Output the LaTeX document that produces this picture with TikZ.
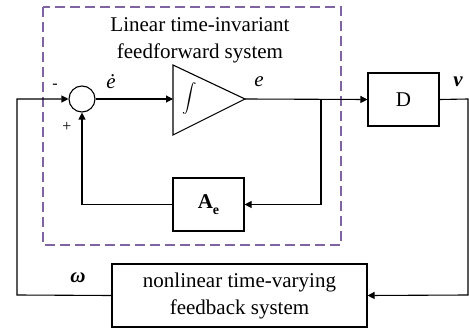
\documentclass[tikz,border=0pt]{standalone}
\usepackage{amsmath}
\usepackage{fontspec}
\setmainfont{Liberation Serif}
\usetikzlibrary{arrows.meta}
\definecolor{dpurple}{RGB}{128,100,162}
\begin{document}
\begin{tikzpicture}[x=1pt,y=-1pt,
  blk/.style={draw,line width=1.1pt,inner sep=0pt,font=\fontsize{21}{26}\selectfont},
  sig/.style={line width=1.1pt,-{Triangle[length=7pt,width=7pt]}},
  ln/.style={line width=1.1pt},
  lbl/.style={inner sep=0pt,font=\fontsize{21}{26}\selectfont},
  sgn/.style={inner sep=0pt,font=\fontsize{16}{18}\selectfont}]
\useasboundingbox (0,0) rectangle (469,329);
% dashed region
\draw[dpurple,line width=1.5pt,dash pattern=on 10pt off 5pt] (43,7) rectangle (341,245);
\node[lbl,align=center,font=\fontsize{21}{27}\selectfont] (title) at (200,40) {Linear time-invariant\\feedforward system};
% blocks
\node[draw,circle,line width=1.1pt,minimum size=26pt,inner sep=0pt] (sum) at (82,99) {};
\coordinate (intw) at (173,99);
\coordinate (inte) at (245,99);
\draw[ln,line join=miter] (173,65) -- (inte) -- (173,135) -- cycle;
\node[inner sep=0pt,font=\fontsize{15}{15}\selectfont] (intsym) at (190,99) {$\displaystyle\int$};
\node[blk,minimum width=71pt,minimum height=53pt] (D) at (403.5,99.5) {D};
\node[blk,minimum width=71pt,minimum height=53pt] (Ae) at (208.5,204.5) {\textbf{A}\raisebox{-0.3em}{\fontsize{14}{14}\selectfont\textbf{e}}};
\node[blk,minimum width=255pt,minimum height=63pt,align=center,font=\fontsize{21}{27}\selectfont] (nl) at (239.5,295.5) {nonlinear time-varying\\feedback system};
% coordinates
\coordinate (br) at (321,99);
\coordinate (rt) at (468,99);
\coordinate (rb) at (468,295);
\coordinate (lb) at (17,295);
\coordinate (lt) at (17,99);
% connectors
\draw[sig] (sum.east) -- (intw);
\draw[sig] (inte) -- (D.west);
\draw[sig] (br) |- (Ae.east);
\draw[sig] (Ae.west) -| (sum.south);
\draw[sig] (D.east) -- (rt) -- (rb) -- (nl.east);
\draw[sig] (nl.west) -- (lb) -- (lt) -- (sum.west);
% labels
\node[lbl] (edot) at (111,82) {\textit{ė}};
\node[lbl] (e) at (259,82) {\textit{e}};
\node[lbl] (v) at (458,82) {\textbf{\textit{v}}};
\node[lbl] (w) at (78,278) {\textbf{\textit{ω}}};
\node[sgn] (minus) at (55,86) {-};
\node[sgn] (plus) at (67,127) {+};
\end{tikzpicture}
\end{document}
